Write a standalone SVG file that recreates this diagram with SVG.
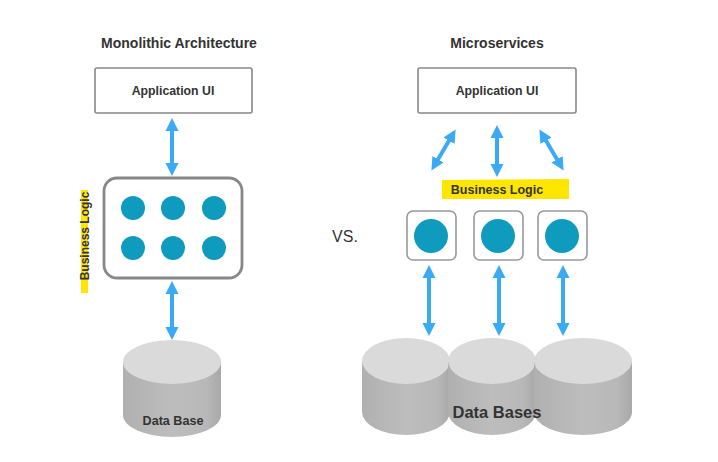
<svg xmlns="http://www.w3.org/2000/svg" width="718" height="462" viewBox="0 0 718 462">
<style>
.t{font-family:"Liberation Sans",Arial,sans-serif;font-weight:bold;fill:#333;text-anchor:middle}
.box{fill:#fff;stroke:#888;stroke-width:1.6}
.bl{fill:#fff;stroke:#888;stroke-width:2.8}
.sm{fill:#fff;stroke:#999;stroke-width:1.6}
.dot{fill:#0e9bbd}
.arr{stroke:#3aaaf7;stroke-width:4;fill:none;marker-start:url(#ah);marker-end:url(#ah)}
.top{fill:#dadada}
.side{fill:url(#sg)}
</style>
<defs>
<marker id="ah" markerUnits="userSpaceOnUse" markerWidth="15" markerHeight="15" refX="2" refY="7.5" orient="auto-start-reverse" viewBox="0 0 15 15">
<path d="M0,1 L13,7.5 L0,14 Z" fill="#3aaaf7"/>
</marker>
<linearGradient id="sg" x1="0" y1="0" x2="1" y2="0">
<stop offset="0" stop-color="#b0b0b0"/>
<stop offset="0.5" stop-color="#bdbdbd"/>
<stop offset="0.85" stop-color="#b8b8b8"/>
<stop offset="1" stop-color="#a8a8a8"/>
</linearGradient>
</defs>
<rect width="718" height="462" fill="#fff"/>

<text class="t" x="179" y="48" font-size="14">Monolithic Architecture</text>
<text class="t" x="497" y="48" font-size="14">Microservices</text>
<text x="345" y="242" font-family="Liberation Sans,Arial,sans-serif" font-size="16" fill="#333" text-anchor="middle">VS.</text>

<g id="connectors">
<line class="arr" x1="172" y1="129" x2="172" y2="165"/>
<line class="arr" x1="172" y1="292" x2="172" y2="329"/>
<line class="arr" x1="450" y1="139" x2="437" y2="161"/>
<line class="arr" x1="497" y1="136" x2="497" y2="166"/>
<line class="arr" x1="545" y1="139" x2="558" y2="161"/>
<line class="arr" x1="429" y1="276" x2="429" y2="325"/>
<line class="arr" x1="499" y1="276" x2="499" y2="325"/>
<line class="arr" x1="563" y1="276" x2="563" y2="325"/>
</g>

<g id="mono-ui">
<rect class="box" x="95" y="68" width="157" height="45" rx="2"/>
<text class="t" x="173" y="95" font-size="12.3">Application UI</text>
</g>

<g id="mono-logic">
<rect class="bl" x="104" y="178" width="138" height="100" rx="13"/>
<circle class="dot" cx="133" cy="208" r="12"/>
<circle class="dot" cx="173" cy="208" r="12"/>
<circle class="dot" cx="214" cy="208" r="12"/>
<circle class="dot" cx="133" cy="248" r="12"/>
<circle class="dot" cx="173" cy="248" r="12"/>
<circle class="dot" cx="214" cy="248" r="12"/>
</g>

<g id="mono-label">
<rect x="81" y="190" width="7" height="103" fill="#ffe600"/>
<text class="t" transform="translate(89,236) rotate(-90)" font-size="12" fill="#222">Business Logic</text>
</g>

<g id="mono-db">
<path class="side" d="M123,362 V415 A49,22 0 0 0 221,415 V362 Z"/>
<ellipse class="top" cx="172" cy="362" rx="49" ry="22"/>
<text class="t" x="173" y="425" font-size="12.6">Data Base</text>
</g>

<g id="micro-ui">
<rect class="box" x="418" y="68" width="158" height="45" rx="2"/>
<text class="t" x="497" y="95" font-size="12.3">Application UI</text>
</g>

<g id="micro-label">
<path d="M442,180 L569,179 L569,199 L442,199 Z" fill="#ffe600"/>
<text class="t" x="497" y="194" font-size="12.5" fill="#222">Business Logic</text>
</g>

<g id="svc1">
<rect class="sm" x="407" y="211" width="49" height="49" rx="6"/>
<circle class="dot" cx="431" cy="236" r="17"/>
</g>
<g id="svc2">
<rect class="sm" x="474" y="211" width="49" height="49" rx="6"/>
<circle class="dot" cx="498" cy="236" r="17"/>
</g>
<g id="svc3">
<rect class="sm" x="538" y="211" width="49" height="49" rx="6"/>
<circle class="dot" cx="562" cy="236" r="17"/>
</g>

<g id="micro-dbs">
<path class="side" d="M362,361 V412 A44,23 0 0 0 450,412 V361 Z"/>
<ellipse class="top" cx="406" cy="361" rx="44" ry="23"/>
<path class="side" d="M448,361 V412 A44,23 0 0 0 536,412 V361 Z"/>
<ellipse class="top" cx="492" cy="361" rx="44" ry="23"/>
<path class="side" d="M534,361 V412 A49,23 0 0 0 632,412 V361 Z"/>
<ellipse class="top" cx="583" cy="361" rx="49" ry="23"/>
<text class="t" x="497" y="418" font-size="16.5">Data Bases</text>
</g>
</svg>
